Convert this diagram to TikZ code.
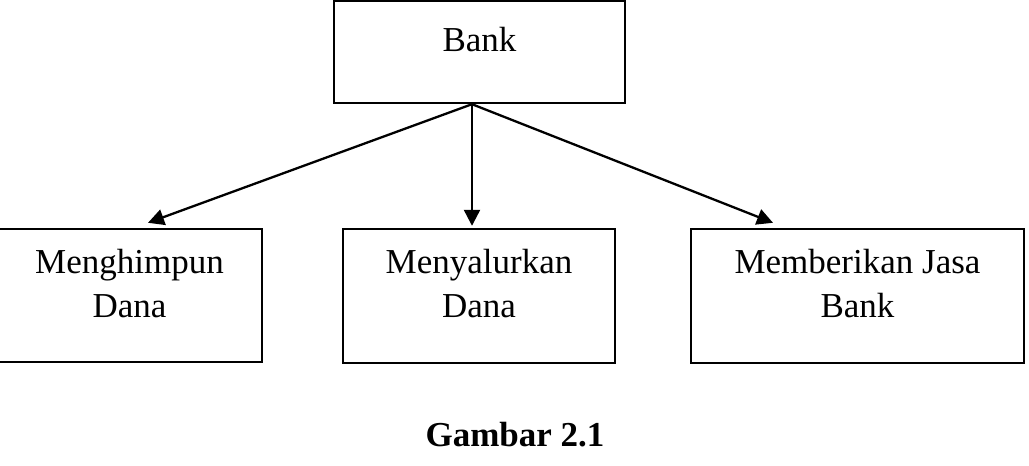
\documentclass[tikz,border=0pt]{standalone}
\usepackage{fontspec}
\setmainfont{Liberation Serif}
\usetikzlibrary{arrows.meta}
\begin{document}
\begin{tikzpicture}[x=1pt,y=1pt,
  box/.style={draw=black,line width=2.4pt,minimum width=#1,inner sep=0pt},
  txt/.style={font=\fontsize{35}{44}\selectfont,align=center,inner sep=0pt},
  conn/.style={line width=2.3pt,-{Triangle[length=16pt,width=16pt]}}]
\useasboundingbox (0,0) rectangle (1029,466);
\node[box=291pt,minimum height=102pt] (bank) at (479.5,414) {};
\node[box=265pt,minimum height=133pt] (m1) at (129.5,170.5) {};
\node[box=272pt,minimum height=134pt] (m2) at (479,170) {};
\node[box=333pt,minimum height=134pt] (m3) at (857.5,170) {};
\node[txt,anchor=base] (tbank) at (479.5,414) {Bank};
\node[txt] (t1) at (129.5,182) {Menghimpun\\Dana};
\node[txt] (t2) at (479,182) {Menyalurkan\\Dana};
\node[txt] (t3) at (857.5,182) {Memberikan Jasa\\Bank};
\node[txt,anchor=base,font=\fontsize{35}{44}\selectfont\bfseries] (cap) at (515,19) {Gambar 2.1};
\coordinate (o) at ([xshift=-7.5pt]bank.south);
\coordinate (e1) at ([xshift=18.5pt,yshift=5pt]m1.north);
\coordinate (e2) at ([xshift=-7pt,yshift=2pt]m2.north);
\coordinate (e3) at ([xshift=-84.5pt,yshift=5pt]m3.north);
\draw[conn] (o) -- (e1);
\draw[conn] (o) -- (e2);
\draw[conn] (o) -- (e3);
\end{tikzpicture}
\end{document}
